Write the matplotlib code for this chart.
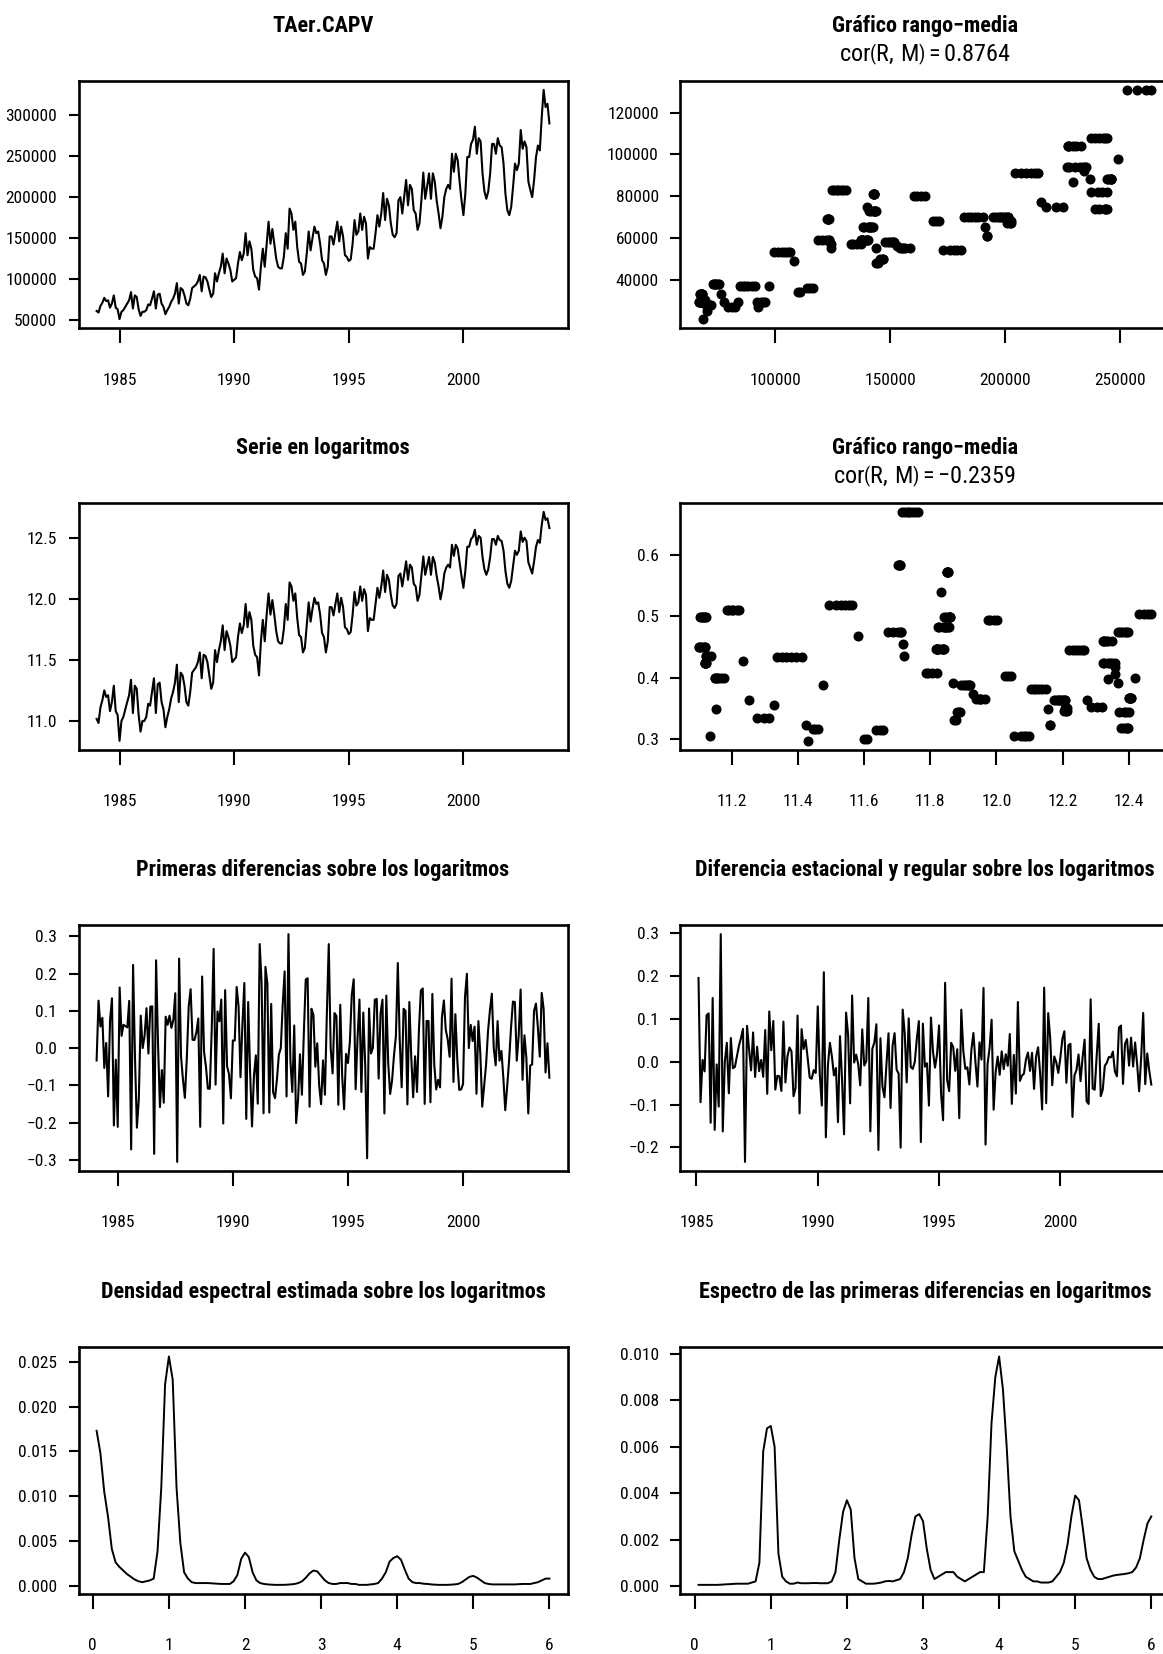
import numpy as np
import matplotlib
matplotlib.use('Agg')
import matplotlib.pyplot as plt
from matplotlib import font_manager
from matplotlib.ticker import FixedLocator, FuncFormatter

avail = {f.name for f in font_manager.fontManager.ttflist}
narrow = next((f for f in ['Liberation Sans Narrow', 'Arial Narrow', 'Roboto Condensed']
               if f in avail), None)
if narrow:
    base_font = narrow
    TICK_FS, TITLE_FS, MATH_FS = 12.5, 16, 17.5
else:
    base_font = 'Liberation Sans'
    TICK_FS, TITLE_FS, MATH_FS = 10.5, 13.5, 14

plt.rcParams['font.family'] = [base_font, 'DejaVu Sans']
plt.rcParams['mathtext.fontset'] = 'custom'
plt.rcParams['mathtext.rm'] = base_font
plt.rcParams['mathtext.it'] = base_font + ':italic'
plt.rcParams['axes.unicode_minus'] = True

# ---------------- data ----------------
start_year = 1984
# monthly series (thousands), Jan 1984 .. Oct 2003
series_k = [
    61, 59, 67, 71, 77, 73, 74, 65, 70, 80, 65, 63,
    51, 60, 62, 66, 70, 74, 84, 64, 80, 78, 63, 55,
    60, 60, 62, 69, 68, 76, 85, 64, 81, 82, 70, 66,
    57, 62, 66, 72, 76, 82, 95, 70, 89, 87, 80, 70,
    68, 76, 89, 91, 93, 97, 105, 85, 103, 102, 97, 87,
    78, 82, 107, 97, 107, 115, 131, 107, 125, 119, 111, 97,
    99, 101, 119, 133, 123, 131, 156, 129, 146, 137, 111, 103,
    101, 87, 115, 137, 115, 143, 170, 143, 161, 143, 125, 115,
    113, 113, 127, 156, 137, 186, 180, 160, 170, 139, 121, 119,
    105, 109, 131, 158, 135, 150, 164, 156, 158, 143, 123, 119,
    105, 115, 152, 152, 142, 156, 170, 146, 164, 152, 129, 127,
    122, 124, 143, 172, 154, 158, 180, 160, 176, 168, 125, 139,
    137, 137, 156, 178, 164, 180, 205, 172, 198, 190, 168, 154,
    151, 156, 196, 200, 180, 200, 221, 190, 215, 210, 184, 180,
    160, 168, 196, 230, 198, 213, 229, 198, 229, 219, 196, 180,
    162, 176, 200, 210, 215, 210, 253, 231, 253, 245, 219, 196,
    178, 204, 249, 249, 265, 270, 286, 253, 272, 268, 229, 207,
    198, 207, 229, 265, 265, 253, 272, 263, 261, 241, 204, 184,
    178, 188, 213, 241, 233, 241, 282, 259, 268, 261, 219, 209,
    200, 221, 249, 263, 257, 298, 331, 310, 314, 290,
]

# spectral densities at frequencies 0.05, 0.10, ..., 6.00 (cycles per year)
spec_log = [
    0.0173, 0.0148, 0.0105, 0.0077, 0.0041, 0.0026, 0.0021, 0.0017, 0.0013, 0.0010,
    0.0007, 0.0005, 0.0004, 0.0005, 0.0006, 0.0008, 0.0038, 0.0110, 0.0225, 0.0256,
    0.0230, 0.0110, 0.0048, 0.0015, 0.0008, 0.0004, 0.0003, 0.0003, 0.0003, 0.0003,
    0.00028, 0.00025, 0.00022, 0.0002, 0.0002, 0.0002, 0.0005, 0.0012, 0.0030, 0.0037,
    0.0032, 0.0015, 0.0006, 0.0003, 0.0002, 0.00015, 0.00012, 0.0001, 0.0001, 0.0001,
    0.00012, 0.00015, 0.0002, 0.0003, 0.0005, 0.0009, 0.0014, 0.0017, 0.0016, 0.0011,
    0.0006, 0.0003, 0.0002, 0.0002, 0.0003, 0.0003, 0.0003, 0.0002, 0.0002, 0.0001,
    0.0001, 0.0001, 0.00015, 0.0002, 0.0003, 0.0008, 0.0015, 0.0027, 0.0031, 0.0033,
    0.0029, 0.0018, 0.0008, 0.0004, 0.0003, 0.0003, 0.00022, 0.0002, 0.00015, 0.00012,
    0.0001, 0.0001, 0.0001, 0.00012, 0.00015, 0.0002, 0.0004, 0.0007, 0.0010, 0.0011,
    0.0009, 0.0006, 0.0003, 0.0002, 0.00015, 0.00015, 0.00015, 0.00015, 0.00015, 0.00015,
    0.00015, 0.00018, 0.0002, 0.0002, 0.0002, 0.0003, 0.0004, 0.0006, 0.0008, 0.0008,
]
spec_diff = [
    0.00005, 0.00005, 0.00005, 0.00005, 0.00005, 0.00005, 0.00006, 0.00007, 0.00008, 0.00009,
    0.0001, 0.0001, 0.0001, 0.0001, 0.00015, 0.0002, 0.0010, 0.0058, 0.0068, 0.0069,
    0.0060, 0.0014, 0.0004, 0.0002, 0.0001, 0.0001, 0.00015, 0.00012, 0.00012, 0.00012,
    0.00013, 0.00013, 0.00012, 0.00012, 0.00012, 0.0002, 0.0006, 0.0020, 0.0032, 0.0037,
    0.0033, 0.0012, 0.0003, 0.0002, 0.0001, 0.0001, 0.0001, 0.00012, 0.00015, 0.0002,
    0.00022, 0.0002, 0.00025, 0.0003, 0.0006, 0.0012, 0.0022, 0.0030, 0.0031, 0.0028,
    0.0016, 0.0007, 0.0003, 0.0004, 0.0005, 0.0006, 0.0006, 0.0006, 0.0004, 0.0003,
    0.0002, 0.0003, 0.0004, 0.0005, 0.0006, 0.0006, 0.0030, 0.0070, 0.0090, 0.0099,
    0.0085, 0.0060, 0.0030, 0.0015, 0.0011, 0.0007, 0.0004, 0.0003, 0.0002, 0.0002,
    0.00015, 0.00015, 0.00015, 0.0002, 0.0004, 0.0006, 0.0010, 0.0018, 0.0030, 0.0039,
    0.0037, 0.0025, 0.0012, 0.0007, 0.0004, 0.0003, 0.0003, 0.00035, 0.0004, 0.00045,
    0.00048, 0.0005, 0.00052, 0.00055, 0.0006, 0.0008, 0.0012, 0.0020, 0.0027, 0.0030,
]
freq_step = 0.05

cor_level = "0.8764"
cor_log = "\u22120.2359"

titles = {
    'level': "TAer.CAPV",
    'log': "Serie en logaritmos",
    'rm': "Gráfico rango\u2212media",
    'd1': "Primeras diferencias sobre los logaritmos",
    'd12': "Diferencia estacional y regular sobre los logaritmos",
    'sp1': "Densidad espectral estimada sobre los logaritmos",
    'sp2': "Espectro de las primeras diferencias en logaritmos",
}

# ---------------- derived ----------------
y = np.array(series_k, dtype=float) * 1000.0
n = len(y)
t = start_year + np.arange(n) / 12.0
ly = np.log(y)
d1 = np.diff(ly)
t_d1 = t[1:]
d12 = ly[12:] - ly[:-12]
dd = np.diff(d12)
t_dd = t[13:]

def range_mean(x, w=12):
    win = np.lib.stride_tricks.sliding_window_view(x, w)
    return win.mean(axis=1), win.max(axis=1) - win.min(axis=1)

m_lev, r_lev = range_mean(y)
m_log, r_log = range_mean(ly)
freqs = freq_step * np.arange(1, len(spec_log) + 1)

# ---------------- layout ----------------
W, H = 1163, 1654
fig = plt.figure(figsize=(W / 100, H / 100), dpi=100)

rows = [(80.7, 328.3), (502.7, 750.0), (925.0, 1171.0), (1347.3, 1594.0)]
cols = [78.5, 680.4]
AW = 489.0

def make_ax(r, c):
    top, bot = rows[r]
    ax = fig.add_axes([cols[c] / W, 1 - bot / H, AW / W, (bot - top) / H])
    for s in ax.spines.values():
        s.set_linewidth(1.9)
    ax.tick_params(axis='x', length=11, width=1.5, pad=21, labelsize=TICK_FS)
    ax.tick_params(axis='y', length=7.5, width=1.5, pad=8, labelsize=TICK_FS)
    ax.margins(0.04)
    return ax

def title(r, c, txt, second=None):
    top = rows[r][0]
    xc = (cols[c] + AW / 2) / W
    fig.text(xc, 1 - (top - 55) / H, txt, ha='center', va='center',
             fontsize=TITLE_FS, fontweight='bold')
    if second is not None:
        fig.text(xc, 1 - (top - 26) / H, second, ha='center', va='center', fontsize=MATH_FS)

def fmt(f):
    return FuncFormatter(lambda v, p: f.format(v).replace('-', '\u2212'))

def cor_text(val):
    return r'$\mathrm{cor}\left(\mathrm{R,\,M}\right)=' + val + '$'

years = [1985, 1990, 1995, 2000]
LW = 1.5

# Row 1
ax = make_ax(0, 0)
ax.plot(t, y, color='black', lw=LW)
ax.xaxis.set_major_locator(FixedLocator(years))
ax.xaxis.set_major_formatter(fmt('{:.0f}'))
ax.yaxis.set_major_locator(FixedLocator([50000, 100000, 150000, 200000, 250000, 300000]))
ax.yaxis.set_major_formatter(fmt('{:.0f}'))
title(0, 0, titles['level'])

ax = make_ax(0, 1)
ax.plot(m_lev, r_lev, 'o', color='black', ms=6.2, mec='black')
ax.xaxis.set_major_locator(FixedLocator([100000, 150000, 200000, 250000]))
ax.xaxis.set_major_formatter(fmt('{:.0f}'))
ax.yaxis.set_major_locator(FixedLocator([40000, 60000, 80000, 100000, 120000]))
ax.yaxis.set_major_formatter(fmt('{:.0f}'))
title(0, 1, titles['rm'], cor_text(cor_level))

# Row 2
ax = make_ax(1, 0)
ax.plot(t, ly, color='black', lw=LW)
ax.xaxis.set_major_locator(FixedLocator(years))
ax.xaxis.set_major_formatter(fmt('{:.0f}'))
ax.yaxis.set_major_locator(FixedLocator([11.0, 11.5, 12.0, 12.5]))
ax.yaxis.set_major_formatter(fmt('{:.1f}'))
title(1, 0, titles['log'])

ax = make_ax(1, 1)
ax.plot(m_log, r_log, 'o', color='black', ms=6.2, mec='black')
ax.xaxis.set_major_locator(FixedLocator([11.2, 11.4, 11.6, 11.8, 12.0, 12.2, 12.4]))
ax.xaxis.set_major_formatter(fmt('{:.1f}'))
ax.yaxis.set_major_locator(FixedLocator([0.3, 0.4, 0.5, 0.6]))
ax.yaxis.set_major_formatter(fmt('{:.1f}'))
title(1, 1, titles['rm'], cor_text(cor_log))

# Row 3
ax = make_ax(2, 0)
ax.plot(t_d1, d1, color='black', lw=LW)
ax.xaxis.set_major_locator(FixedLocator(years))
ax.xaxis.set_major_formatter(fmt('{:.0f}'))
ax.yaxis.set_major_locator(FixedLocator([-0.3, -0.2, -0.1, 0.0, 0.1, 0.2, 0.3]))
ax.yaxis.set_major_formatter(fmt('{:.1f}'))
title(2, 0, titles['d1'])

ax = make_ax(2, 1)
ax.plot(t_dd, dd, color='black', lw=LW)
ax.xaxis.set_major_locator(FixedLocator(years))
ax.xaxis.set_major_formatter(fmt('{:.0f}'))
ax.yaxis.set_major_locator(FixedLocator([-0.2, -0.1, 0.0, 0.1, 0.2, 0.3]))
ax.yaxis.set_major_formatter(fmt('{:.1f}'))
title(2, 1, titles['d12'])

# Row 4
ax = make_ax(3, 0)
ax.plot(freqs, spec_log, color='black', lw=1.4)
ax.xaxis.set_major_locator(FixedLocator([0, 1, 2, 3, 4, 5, 6]))
ax.xaxis.set_major_formatter(fmt('{:.0f}'))
ax.yaxis.set_major_locator(FixedLocator([0.0, 0.005, 0.010, 0.015, 0.020, 0.025]))
ax.yaxis.set_major_formatter(fmt('{:.3f}'))
ax.set_xlim(-0.188, 6.238)
title(3, 0, titles['sp1'])

ax = make_ax(3, 1)
ax.plot(freqs, spec_diff, color='black', lw=1.4)
ax.xaxis.set_major_locator(FixedLocator([0, 1, 2, 3, 4, 5, 6]))
ax.xaxis.set_major_formatter(fmt('{:.0f}'))
ax.yaxis.set_major_locator(FixedLocator([0.0, 0.002, 0.004, 0.006, 0.008, 0.010]))
ax.yaxis.set_major_formatter(fmt('{:.3f}'))
ax.set_xlim(-0.188, 6.238)
title(3, 1, titles['sp2'])

fig.savefig('out.png', dpi=100)
